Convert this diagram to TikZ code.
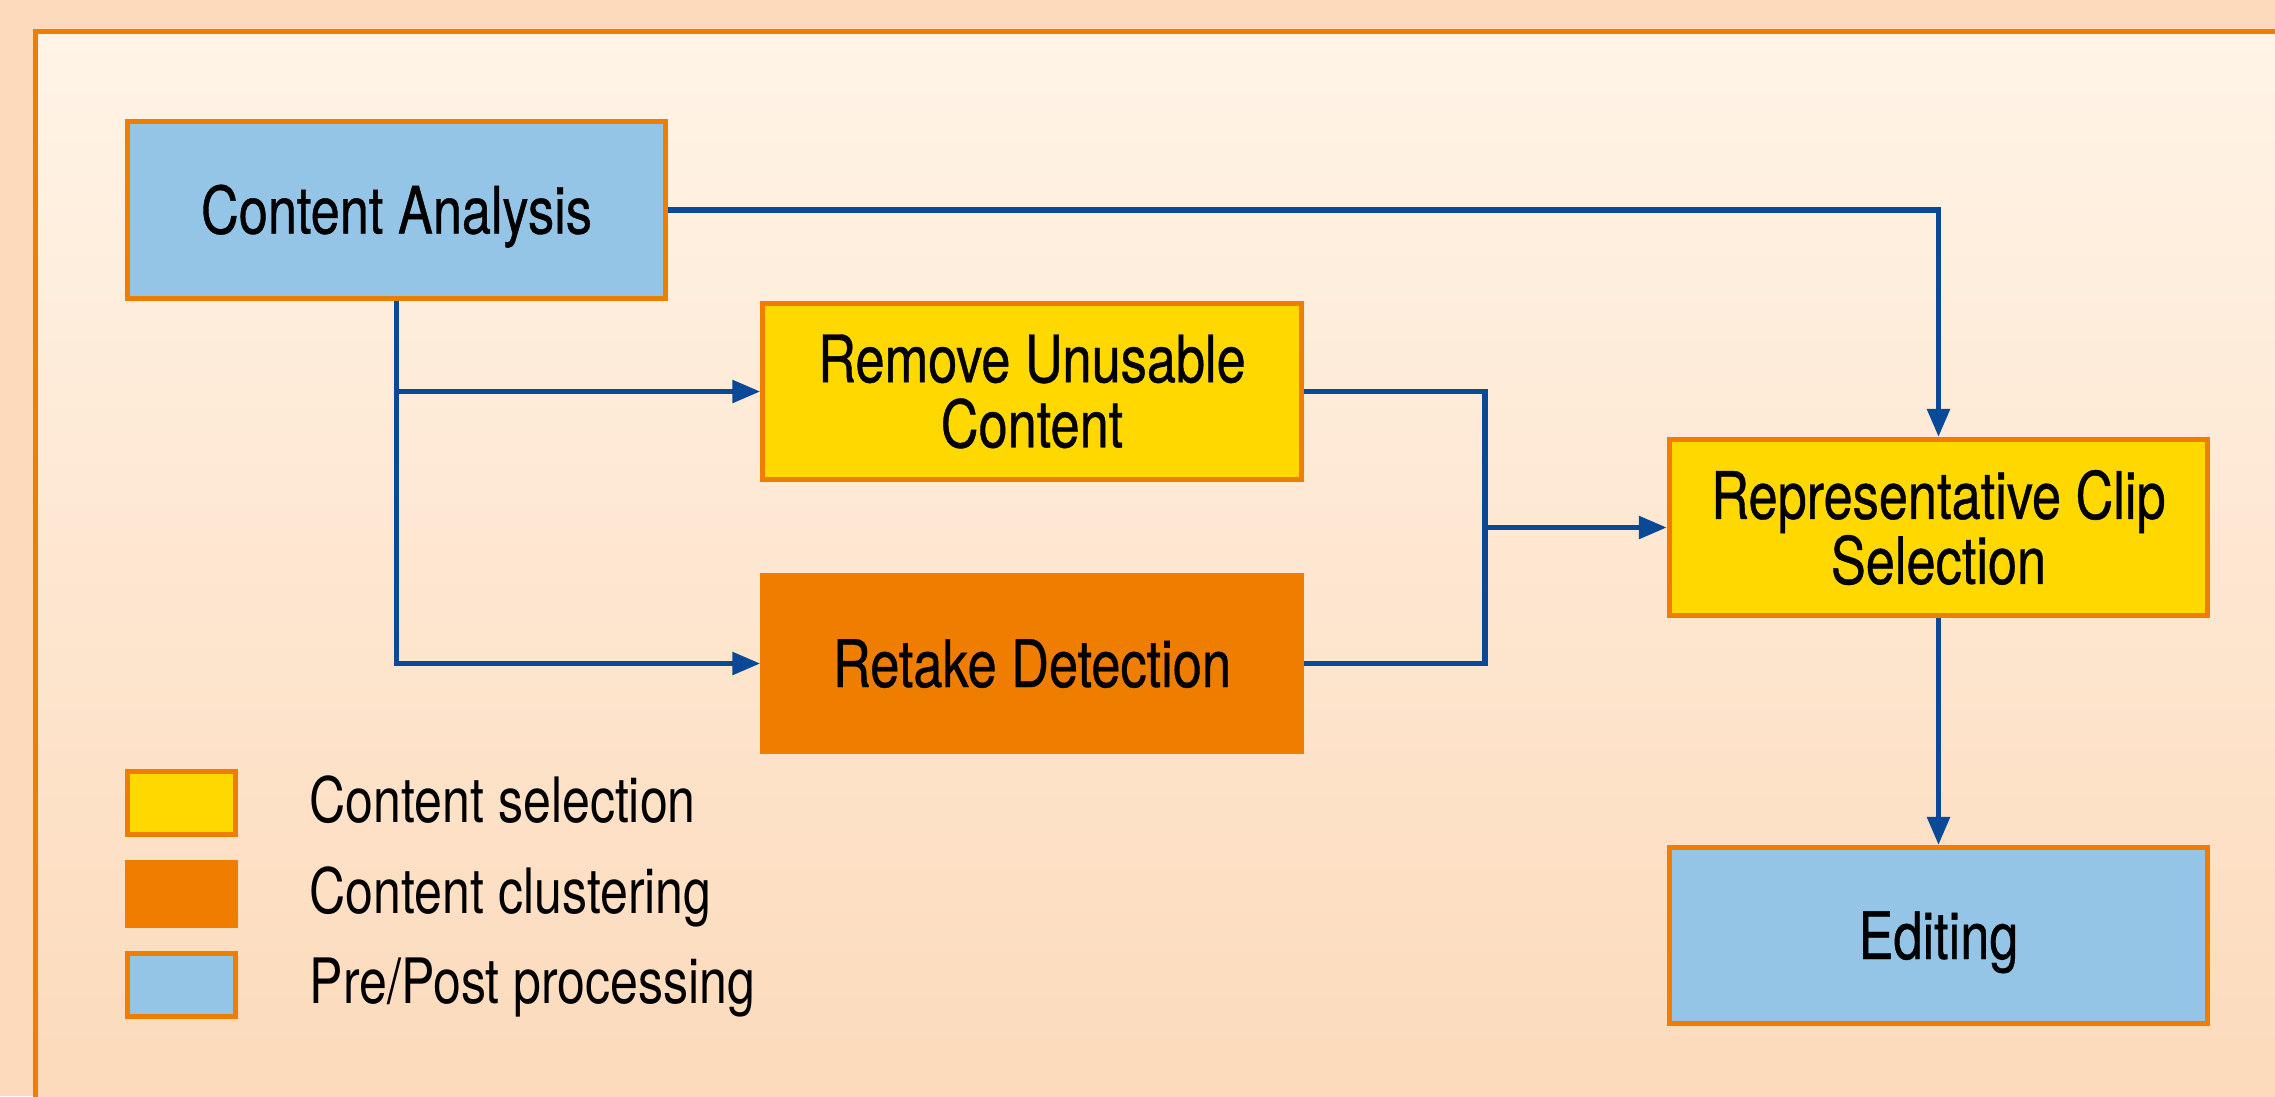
\documentclass[tikz,border=0pt]{standalone}
\usepackage{fontspec}
\setmainfont{TeX Gyre Heros}[FakeStretch=0.8]
\newfontfamily\boxfont{TeX Gyre Heros}[FakeStretch=0.8,FakeBold=0.6]
\usetikzlibrary{arrows.meta}
\definecolor{bgpeach}{RGB}{252,218,187}
\definecolor{bgcream}{RGB}{255,244,231}
\definecolor{frameor}{RGB}{238,125,0}
\definecolor{boxyel}{RGB}{255,216,0}
\definecolor{boxblue}{RGB}{148,197,231}
\definecolor{lineblue}{RGB}{10,72,152}
\begin{document}
\begin{tikzpicture}[x=0.01cm,y=-0.01cm,
  procbox/.style={draw=frameor, line width=0.05cm, minimum width=5.38cm, minimum height=1.76cm,
    inner sep=0pt, align=center, font=\boxfont\fontsize{18.6pt}{18.5pt}\selectfont},
  oneline/.style={text height=0.47cm, text depth=0pt},
  legbox/.style={draw=frameor, line width=0.05cm, minimum width=1.08cm, minimum height=0.63cm, inner sep=0pt},
  legtext/.style={anchor=base west, inner sep=0pt, font=\fontsize{17.8pt}{18pt}\selectfont},
  conn/.style={draw=lineblue, line width=0.055cm},
  arr/.style={conn, -{Triangle[length=0.28cm,width=0.22cm]}}
]
\useasboundingbox (0,0) rectangle (2275,1096);
\clip (0,0) rectangle (2275,1096);
\fill[bgpeach] (0,0) rectangle (2275,1096);
\shade[top color=bgcream, bottom color=bgpeach] (35.5,31.5) rectangle (2300,1096);
\draw[frameor, line width=0.05cm] (35.5,1120) -- (35.5,31.5) -- (2300,31.5);

% boxes
\node[procbox, oneline, fill=boxblue] (ca) at (396.5,210) {Content Analysis};
\node[procbox, fill=boxyel] (rem) at (1032,391.5) {Remove Unusable\\Content};
\node[procbox, oneline, fill=frameor] (rdet) at (1032,663.5) {Retake Detection};
\node[procbox, fill=boxyel] (rep) at (1938.5,527.5) {Representative Clip\\Selection};
\node[procbox, oneline, fill=boxblue] (edit) at (1938.5,935.5) {Editing};

% connectors
\coordinate (mx) at (1485,527.5);
\draw[arr] (ca.east) -| (rep.north);
\draw[arr] (ca.south) |- (rdet.west);
\draw[arr] (ca.south |- rem.west) -- (rem.west);
\draw[conn] (rem.east) -| (mx) |- (rdet.east);
\draw[arr] (mx) -- (rep.west);
\draw[arr] (rep.south) -- (edit.north);

% legend
\node[legbox, fill=boxyel] (l1) at (181.5,803) {};
\node[legbox, fill=frameor] (l2) at (181.5,894) {};
\node[legbox, fill=boxblue] (l3) at (181.5,985) {};
\node[legtext] (t1) at (309,822) {Content selection};
\node[legtext] (t2) at (309,913) {Content clustering};
\node[legtext] (t3) at (309,1003) {Pre/Post processing};
\end{tikzpicture}
\end{document}
